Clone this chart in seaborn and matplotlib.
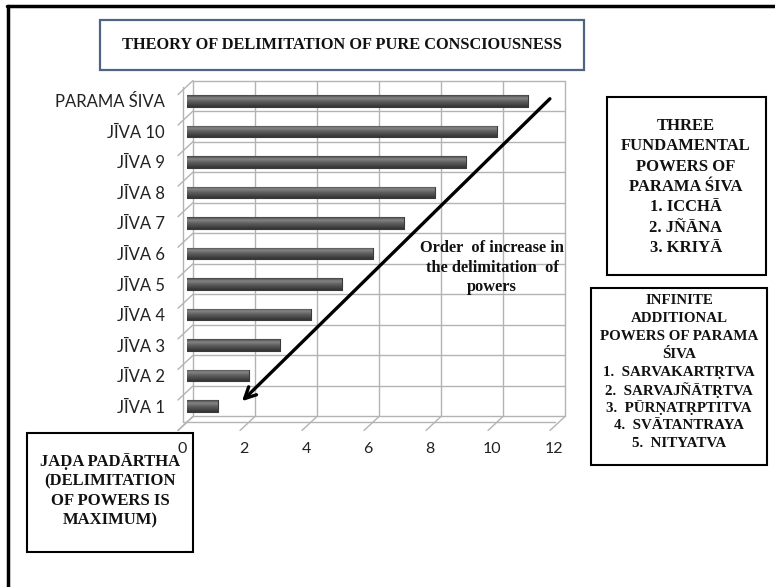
import numpy as np
import pandas as pd
import seaborn as sns
import matplotlib.pyplot as plt
from matplotlib import transforms
from matplotlib.patches import Rectangle
from matplotlib.lines import Line2D
from matplotlib.colors import LinearSegmentedColormap

# data
categories = ["PARAMA ŚIVA", "JĪVA 10", "JĪVA 9", "JĪVA 8", "JĪVA 7", "JĪVA 6",
              "JĪVA 5", "JĪVA 4", "JĪVA 3", "JĪVA 2", "JĪVA 1"]
values = [11, 10, 9, 8, 7, 6, 5, 4, 3, 2, 1]
x_ticks = [0, 2, 4, 6, 8, 10, 12]

title = "THEORY OF DELIMITATION OF PURE CONSCIOUSNESS"
arrow_note = ["Order  of increase in", "the delimitation  of", "powers"]
three_powers = ["THREE", "FUNDAMENTAL", "POWERS OF", "PARAMA ŚIVA",
                "1. ICCHĀ", "2. JÑĀNA", "3. KRIYĀ"]
infinite_powers = ["INFINITE", "ADDITIONAL", "POWERS OF PARAMA", "ŚIVA",
                   "1.  SARVAKARTṚTVA", "2.  SARVAJÑĀTṚTVA", "3.  PŪRṆATṚPTITVA",
                   "4.  SVĀTANTRAYA", "5.  NITYATVA"]
jada = ["JAḌA PADĀRTHA", "(DELIMITATION", "OF POWERS IS", "MAXIMUM)"]

sns.set_theme(style="white")
plt.rcParams['font.family'] = ['Lato', 'DejaVu Sans']
serif = ['Liberation Serif', 'DejaVu Serif']

W, H = 775, 587
fig = plt.figure(figsize=(W / 100, H / 100), dpi=100)


def fx(px):
    return px / W


def fy(py):
    return 1 - py / H


ax = fig.add_axes([fx(187), fy(423), fx(559) - fx(187), fy(84) - fy(423)])
ax.set_facecolor("none")

df = pd.DataFrame({"label": categories, "value": values})
sns.barplot(data=df, x="value", y="label", order=categories, color="#555555",
            saturation=1, width=0.38, ax=ax, zorder=3)

# cylinder-like shading on each bar
cmap = LinearSegmentedColormap.from_list(
    "cyl", ["#454545", "#858585", "#626262", "#4a4a4a", "#333333"])
grad = np.linspace(0, 1, 64).reshape(-1, 1)
for p in ax.patches:
    x0, y0, w, h = p.get_x(), p.get_y(), p.get_width(), p.get_height()
    p.set_edgecolor("#3a3a3a")
    p.set_linewidth(0.8)
    p.set_joinstyle("round")
    im = ax.imshow(grad, cmap=cmap, extent=[x0, x0 + w, y0 + h, y0],
                   aspect="auto", zorder=4, interpolation="bilinear")
    im.set_clip_path(p)

ax.set_xlim(0, 12)
ax.set_ylim(len(categories) - 0.45, -0.55)
for s in ax.spines.values():
    s.set_visible(False)
ax.set_xlabel("")
ax.set_ylabel("")

# pseudo 3D walls
back = transforms.offset_copy(ax.transData, fig=fig, x=6, y=5, units="dots")
front = transforms.offset_copy(ax.transData, fig=fig, x=-4, y=-1, units="dots")
tick = transforms.offset_copy(ax.transData, fig=fig, x=-9, y=-9, units="dots")
grid_c = "#b3b3b3"
bottom = len(categories) - 0.5
bounds = np.arange(len(categories) + 1) - 0.5
for t in x_ticks:
    ax.plot([t, t], [-0.5, bottom], transform=back, color=grid_c, lw=1, zorder=0, clip_on=False)
for b in bounds:
    ax.plot([0, 12], [b, b], transform=back, color=grid_c, lw=1, zorder=0, clip_on=False)
ax.plot([0, 12], [bottom, bottom], transform=front, color=grid_c, lw=1, zorder=1, clip_on=False)
ax.plot([0, 0], [-0.5, bottom], transform=front, color=grid_c, lw=1, zorder=1, clip_on=False)


def diag(xv, yv):
    pts = [t.transform((xv, yv)) for t in (back, tick)]
    fig.add_artist(Line2D([pts[0][0], pts[1][0]], [pts[0][1], pts[1][1]],
                          transform=None, color=grid_c, lw=1))


for t in x_ticks:
    diag(t, bottom)
for b in bounds:
    diag(0, b)

ax.set_xticks(x_ticks)
ax.tick_params(axis="x", length=0, pad=14, labelsize=11.5, labelcolor="#222222")
ax.tick_params(axis="y", length=0, pad=16, labelsize=12, labelcolor="#222222")
shift = transforms.ScaledTranslation(-5 / 100, 0, fig.dpi_scale_trans)
for lab in ax.get_xticklabels():
    lab.set_transform(lab.get_transform() + shift)

# arrow
ax.annotate("", xy=(1.71, 9.9), xytext=(11.77, -0.13),
            arrowprops=dict(arrowstyle="->", lw=2.4, color="black",
                            mutation_scale=20), zorder=6)
for i, line in enumerate(arrow_note):
    fig.text(fx(492), fy(248 + i * 19.5), line, ha="center", va="center",
             fontsize=11.8, fontweight="bold", family=serif, color="#111111")


def box(x0, y0, x1, y1, ec="black", lw=1.5):
    fig.patches.append(Rectangle((fx(x0), fy(y1)), fx(x1) - fx(x0), fy(y0) - fy(y1),
                                 transform=fig.transFigure, fill=False,
                                 edgecolor=ec, lw=lw))


def lines(cx, y_first, step, rows, size):
    for i, row in enumerate(rows):
        fig.text(fx(cx), fy(y_first + i * step), row, ha="center", va="center",
                 fontsize=size, fontweight="bold", family=serif, color="#111111")


# outer frame (only left and top visible)
fig.add_artist(Line2D([fx(8), fx(8)], [fy(587), fy(6)], transform=fig.transFigure,
                      color="black", lw=2.5))
fig.add_artist(Line2D([fx(7), fx(775)], [fy(6), fy(6)], transform=fig.transFigure,
                      color="black", lw=2.5))

box(100, 20, 584, 70, ec="#4f6483", lw=1.6)
lines(342, 45, 0, [title], 11.8)

box(607, 97, 766, 275)
lines(686, 126, 20.3, three_powers, 12)

box(591, 288, 767, 465)
lines(679, 301, 17.8, infinite_powers, 10.8)

box(27, 433, 193, 552)
lines(110, 462, 19.5, jada, 12)

fig.savefig("out.png", dpi=100)
